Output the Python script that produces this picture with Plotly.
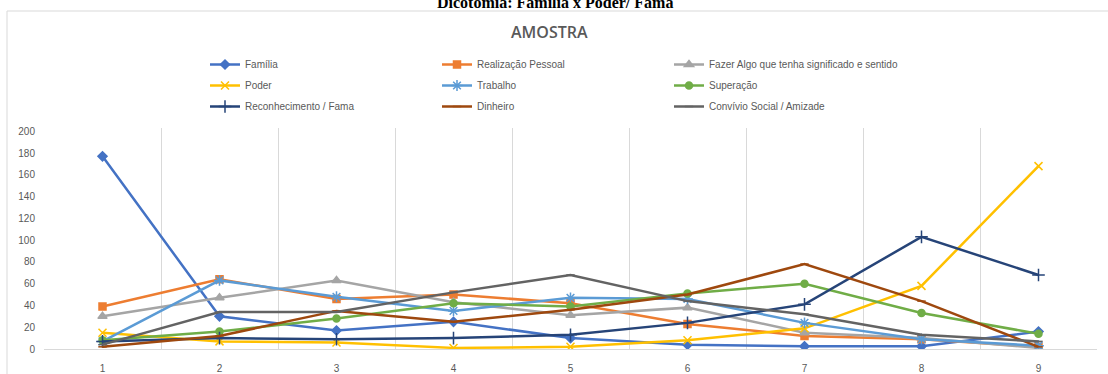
import plotly.graph_objects as go

# Categories on the x axis
categorias = [1, 2, 3, 4, 5, 6, 7, 8, 9]

# Series values
familia = [177, 30, 17, 25, 10, 4, 2.5, 2.5, 16]
realizacao = [39, 64, 46, 50, 42, 23, 12, 9, 2]
fazer_algo = [30, 47, 63, 43, 31, 38, 15, 10, 1]
poder = [15, 7, 6, 1, 2, 8, 19, 58, 168]
trabalho = [7, 63, 48, 35, 47, 46, 24, 9, 3]
superacao = [8, 16, 28, 42, 39, 51, 60, 33, 14]
reconhecimento = [7, 10, 9, 10, 13, 24, 41, 103, 68]
dinheiro = [2, 12, 35, 25, 36, 50, 78, 44, 2]
convivio = [4, 34, 34, 52, 68, 44, 32, 13, 7]

y_ticks = [0, 20, 40, 60, 80, 100, 120, 140, 160, 180, 200]

W, H = 1108, 374
ML, MR, MT, MB = 44, 11, 128, 25
PW = W - ML - MR
PH = H - MT - MB


def px(x):
    return (x - ML) / PW


def py(y):
    return (H - MB - y) / PH


series = [
    ("Família", familia, "#4472C4", "diamond", 7, "legend"),
    ("Realização Pessoal", realizacao, "#ED7D31", "square", 7, "legend2"),
    ("Fazer Algo que tenha significado e sentido", fazer_algo, "#A5A5A5", "triangle-up", 8, "legend3"),
    ("Poder", poder, "#FFC000", "x-thin-open", 8, "legend"),
    ("Trabalho", trabalho, "#5B9BD5", "asterisk-open", 9, "legend2"),
    ("Superação", superacao, "#70AD47", "circle", 7, "legend3"),
    ("Reconhecimento / Fama", reconhecimento, "#264478", "cross-thin-open", 9, "legend"),
    ("Dinheiro", dinheiro, "#9E480E", "line-ew-open", 6, "legend2"),
    ("Convívio Social / Amizade", convivio, "#636363", "line-ew-open", 6, "legend3"),
]

fig = go.Figure()
for i, (nome, vals, cor, simb, tam, leg) in enumerate(series):
    fig.add_trace(go.Scatter(
        x=categorias, y=vals, name=nome, mode="lines+markers",
        line=dict(color=cor, width=2.5),
        marker=dict(symbol=simb, size=tam, color=cor,
                    line=dict(color=cor, width=1.5)),
        legend=leg, legendgroup=nome,
    ))

leg_font = dict(family="Liberation Sans", size=10, color="#595959")
leg_common = dict(orientation="v", font=leg_font, bgcolor="rgba(0,0,0,0)",
                  xanchor="left", yanchor="top", tracegroupgap=2,
                  itemwidth=30, traceorder="grouped")

fig.update_layout(
    width=W, height=H,
    margin=dict(l=ML, r=MR, t=MT, b=MB, autoexpand=False),
    paper_bgcolor="white", plot_bgcolor="white",
    showlegend=True,
    legend=dict(x=px(205), y=py(50), **leg_common),
    legend2=dict(x=px(437), y=py(50), **leg_common),
    legend3=dict(x=px(669), y=py(50), **leg_common),
    xaxis=dict(
        range=[0.5, 9.5], tickvals=categorias, automargin=False,
        showgrid=False, zeroline=False,
        showline=True, linecolor="#D9D9D9", linewidth=1,
        ticks="", ticklabelstandoff=10,
        tickfont=dict(family="Liberation Sans", size=10, color="#595959"),
        minor=dict(tickvals=[k + 0.5 for k in range(0, 10)],
                   showgrid=True, gridcolor="#D9D9D9", gridwidth=1),
    ),
    yaxis=dict(
        range=[0, 203], tickvals=y_ticks, automargin=False,
        showgrid=False, zeroline=False, showline=False,
        ticks="", ticklabelstandoff=8,
        tickfont=dict(family="Liberation Sans", size=10, color="#595959"),
    ),
    shapes=[
        dict(type="rect", xref="paper", yref="paper",
             x0=px(7), x1=px(1120), y0=py(11), y1=py(390),
             line=dict(color="#D9D9D9", width=1), layer="below"),
    ],
    annotations=[
        dict(text="<b>Dicotomia: Família x Poder/ Fama</b>",
             xref="paper", yref="paper", x=px(555), y=py(13),
             xanchor="center", yanchor="bottom", showarrow=False,
             font=dict(family="Liberation Serif", size=16, color="black")),
        dict(text="AMOSTRA", xref="paper", yref="paper",
             x=px(549), y=py(32), xanchor="center", yanchor="middle",
             showarrow=False,
             font=dict(family="Open Sans", size=16, color="#595959", weight=600)),
    ],
)

fig.write_html("out.html")
